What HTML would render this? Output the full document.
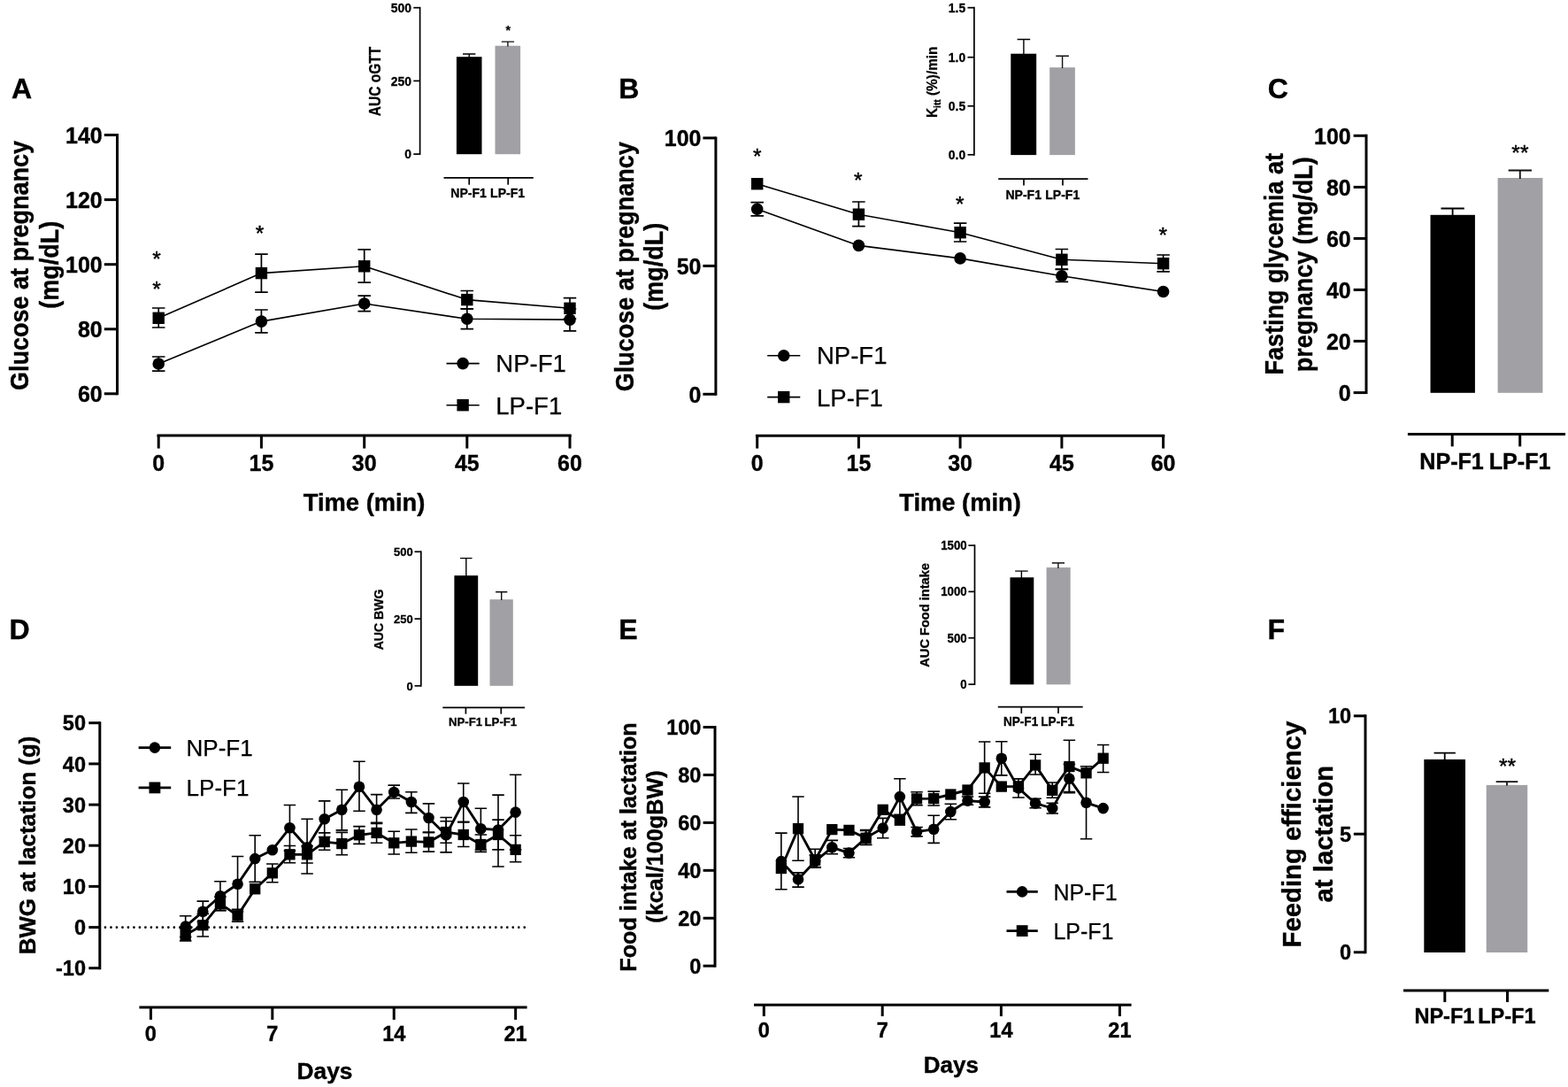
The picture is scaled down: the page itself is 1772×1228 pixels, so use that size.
<!DOCTYPE html>
<html lang="en"><head><meta charset="utf-8"><title>Figure</title>
<style>
html,body{margin:0;padding:0;background:#fff;width:1772px;height:1228px;overflow:hidden}
svg{display:block;font-family:"Liberation Sans",Arial,Helvetica,sans-serif}
</style></head><body>
<svg width="1772" height="1228" viewBox="0 0 1772 1228">
<rect width="1772" height="1228" fill="#fff"/>
<text x="13" y="110.6" font-size="32" font-weight="bold" text-anchor="start" fill="#000" stroke="#000" stroke-width="0.4">A</text>
<text x="699.3" y="110.6" font-size="32" font-weight="bold" text-anchor="start" fill="#000" stroke="#000" stroke-width="0.4">B</text>
<text x="1432.7" y="110.6" font-size="32" font-weight="bold" text-anchor="start" fill="#000" stroke="#000" stroke-width="0.4">C</text>
<text x="10.4" y="722.4" font-size="32" font-weight="bold" text-anchor="start" fill="#000" stroke="#000" stroke-width="0.4">D</text>
<text x="699.3" y="722.4" font-size="32" font-weight="bold" text-anchor="start" fill="#000" stroke="#000" stroke-width="0.4">E</text>
<text x="1432.4" y="722.4" font-size="32" font-weight="bold" text-anchor="start" fill="#000" stroke="#000" stroke-width="0.4">F</text>
<line x1="132.5" y1="151" x2="132.5" y2="446.3" stroke="#000" stroke-width="3" />
<line x1="117.8" y1="152.5" x2="132.5" y2="152.5" stroke="#000" stroke-width="3" />
<text x="115.7" y="161.81" font-size="26" font-weight="bold" text-anchor="end" fill="#000" stroke="#000" stroke-width="0.4" textLength="41.64" lengthAdjust="spacingAndGlyphs">140</text>
<line x1="117.8" y1="225.6" x2="132.5" y2="225.6" stroke="#000" stroke-width="3" />
<text x="115.7" y="234.91" font-size="26" font-weight="bold" text-anchor="end" fill="#000" stroke="#000" stroke-width="0.4" textLength="41.64" lengthAdjust="spacingAndGlyphs">120</text>
<line x1="117.8" y1="298.7" x2="132.5" y2="298.7" stroke="#000" stroke-width="3" />
<text x="115.7" y="308.01" font-size="26" font-weight="bold" text-anchor="end" fill="#000" stroke="#000" stroke-width="0.4" textLength="41.64" lengthAdjust="spacingAndGlyphs">100</text>
<line x1="117.8" y1="371.8" x2="132.5" y2="371.8" stroke="#000" stroke-width="3" />
<text x="115.7" y="381.11" font-size="26" font-weight="bold" text-anchor="end" fill="#000" stroke="#000" stroke-width="0.4" textLength="27.76" lengthAdjust="spacingAndGlyphs">80</text>
<line x1="117.8" y1="444.8" x2="132.5" y2="444.8" stroke="#000" stroke-width="3" />
<text x="115.7" y="454.11" font-size="26" font-weight="bold" text-anchor="end" fill="#000" stroke="#000" stroke-width="0.4" textLength="27.76" lengthAdjust="spacingAndGlyphs">60</text>
<line x1="177.5" y1="492" x2="645.7" y2="492" stroke="#000" stroke-width="3" />
<line x1="179.2" y1="492" x2="179.2" y2="506.6" stroke="#000" stroke-width="3" />
<text x="179.2" y="532" font-size="26" font-weight="bold" text-anchor="middle" fill="#000" stroke="#000" stroke-width="0.4" textLength="13.88" lengthAdjust="spacingAndGlyphs">0</text>
<line x1="295.4" y1="492" x2="295.4" y2="506.6" stroke="#000" stroke-width="3" />
<text x="295.4" y="532" font-size="26" font-weight="bold" text-anchor="middle" fill="#000" stroke="#000" stroke-width="0.4" textLength="27.76" lengthAdjust="spacingAndGlyphs">15</text>
<line x1="411.7" y1="492" x2="411.7" y2="506.6" stroke="#000" stroke-width="3" />
<text x="411.7" y="532" font-size="26" font-weight="bold" text-anchor="middle" fill="#000" stroke="#000" stroke-width="0.4" textLength="27.76" lengthAdjust="spacingAndGlyphs">30</text>
<line x1="527.8" y1="492" x2="527.8" y2="506.6" stroke="#000" stroke-width="3" />
<text x="527.8" y="532" font-size="26" font-weight="bold" text-anchor="middle" fill="#000" stroke="#000" stroke-width="0.4" textLength="27.76" lengthAdjust="spacingAndGlyphs">45</text>
<line x1="644" y1="492" x2="644" y2="506.6" stroke="#000" stroke-width="3" />
<text x="644" y="532" font-size="26" font-weight="bold" text-anchor="middle" fill="#000" stroke="#000" stroke-width="0.4" textLength="27.76" lengthAdjust="spacingAndGlyphs">60</text>
<text x="411.6" y="577.3" font-size="27.3" font-weight="bold" text-anchor="middle" fill="#000" stroke="#000" stroke-width="0.4">Time (min)</text>
<text x="32" y="300" font-size="28.8" font-weight="bold" text-anchor="middle" fill="#000" stroke="#000" stroke-width="0.4" transform="rotate(-90 32 300)" textLength="282.09" lengthAdjust="spacingAndGlyphs">Glucose at pregnancy</text>
<text x="65.8" y="299.3" font-size="28.8" font-weight="bold" text-anchor="middle" fill="#000" stroke="#000" stroke-width="0.4" transform="rotate(-90 65.8 299.3)" textLength="98.97" lengthAdjust="spacingAndGlyphs">(mg/dL)</text>
<polyline points="179.2,411 295.4,363.1 411.7,343 527.8,360.3 644,361.1" stroke="#000" stroke-width="1.6" fill="none" stroke-linejoin="round"/>
<path d="M171.95 403H186.45M171.95 419.2H186.45M179.2 403V419.2" stroke="#000" stroke-width="1.7" fill="none"/>
<path d="M288.15 350H302.65M288.15 375.8H302.65M295.4 350V375.8" stroke="#000" stroke-width="1.7" fill="none"/>
<path d="M404.45 334.2H418.95M404.45 351.6H418.95M411.7 334.2V351.6" stroke="#000" stroke-width="1.7" fill="none"/>
<path d="M520.55 349H535.05M520.55 371.6H535.05M527.8 349V371.6" stroke="#000" stroke-width="1.7" fill="none"/>
<path d="M636.75 349H651.25M636.75 373.8H651.25M644 349V373.8" stroke="#000" stroke-width="1.7" fill="none"/>
<circle cx="179.2" cy="411" r="6.8" fill="#000"/>
<circle cx="295.4" cy="363.1" r="6.8" fill="#000"/>
<circle cx="411.7" cy="343" r="6.8" fill="#000"/>
<circle cx="527.8" cy="360.3" r="6.8" fill="#000"/>
<circle cx="644" cy="361.1" r="6.8" fill="#000"/>
<polyline points="179.2,359.3 295.4,308.6 411.7,300.8 527.8,338.6 644,348.3" stroke="#000" stroke-width="1.6" fill="none" stroke-linejoin="round"/>
<path d="M171.95 348H186.45M171.95 370H186.45M179.2 348V370" stroke="#000" stroke-width="1.7" fill="none"/>
<path d="M288.15 287.1H302.65M288.15 330.2H302.65M295.4 287.1V330.2" stroke="#000" stroke-width="1.7" fill="none"/>
<path d="M404.45 281.8H418.95M404.45 319.1H418.95M411.7 281.8V319.1" stroke="#000" stroke-width="1.7" fill="none"/>
<path d="M520.55 328.5H535.05M520.55 348.9H535.05M527.8 328.5V348.9" stroke="#000" stroke-width="1.7" fill="none"/>
<path d="M636.75 336.6H651.25M636.75 360H651.25M644 336.6V360" stroke="#000" stroke-width="1.7" fill="none"/>
<rect x="172.5" y="352.6" width="13.4" height="13.4" fill="#000"/>
<rect x="288.7" y="301.9" width="13.4" height="13.4" fill="#000"/>
<rect x="405" y="294.1" width="13.4" height="13.4" fill="#000"/>
<rect x="521.1" y="331.9" width="13.4" height="13.4" fill="#000"/>
<rect x="637.3" y="341.6" width="13.4" height="13.4" fill="#000"/>
<text x="177.1" y="300.65" font-size="24.5" font-weight="normal" text-anchor="middle" fill="#000" stroke="#000" stroke-width="0.45">*</text>
<text x="177.1" y="334.55" font-size="24.5" font-weight="normal" text-anchor="middle" fill="#000" stroke="#000" stroke-width="0.45">*</text>
<text x="293.4" y="271.95" font-size="24.5" font-weight="normal" text-anchor="middle" fill="#000" stroke="#000" stroke-width="0.45">*</text>
<line x1="504.5" y1="410.6" x2="541.7" y2="410.6" stroke="#000" stroke-width="1.6" />
<circle cx="523.1" cy="410.6" r="6.8" fill="#000"/>
<text x="560.3" y="420" font-size="27.5" font-weight="normal" text-anchor="start" fill="#000" stroke="#000" stroke-width="0.25">NP-F1</text>
<line x1="504.5" y1="457.7" x2="541.7" y2="457.7" stroke="#000" stroke-width="1.6" />
<rect x="516.4" y="451" width="13.4" height="13.4" fill="#000"/>
<text x="560.3" y="467.8" font-size="27.5" font-weight="normal" text-anchor="start" fill="#000" stroke="#000" stroke-width="0.25">LP-F1</text>
<line x1="474.6" y1="7.85" x2="474.6" y2="174.95" stroke="#000" stroke-width="1.7" />
<line x1="467.3" y1="8.7" x2="474.6" y2="8.7" stroke="#000" stroke-width="1.7" />
<text x="464.9" y="13.89" font-size="14.5" font-weight="bold" text-anchor="end" fill="#000" stroke="#000" stroke-width="0.3" textLength="23.23" lengthAdjust="spacingAndGlyphs">500</text>
<line x1="467.3" y1="91.4" x2="474.6" y2="91.4" stroke="#000" stroke-width="1.7" />
<text x="464.9" y="96.59" font-size="14.5" font-weight="bold" text-anchor="end" fill="#000" stroke="#000" stroke-width="0.3" textLength="23.23" lengthAdjust="spacingAndGlyphs">250</text>
<line x1="467.3" y1="174.1" x2="474.6" y2="174.1" stroke="#000" stroke-width="1.7" />
<text x="464.9" y="179.29" font-size="14.5" font-weight="bold" text-anchor="end" fill="#000" stroke="#000" stroke-width="0.3" textLength="7.74" lengthAdjust="spacingAndGlyphs">0</text>
<rect x="515.9" y="64.2" width="28.6" height="110" fill="#000"/>
<rect x="559.5" y="51.7" width="28.6" height="122.5" fill="#a1a1a5"/>
<path d="M523.05 61H537.35M530.2 61V65" stroke="#000" stroke-width="1.4" fill="none"/>
<path d="M566.75 47.1H581.05M573.9 47.1V52.5" stroke="#111" stroke-width="1.4" fill="none"/>
<line x1="501.5" y1="200.9" x2="602.8" y2="200.9" stroke="#000" stroke-width="1.7" />
<line x1="530.2" y1="200.9" x2="530.2" y2="208.7" stroke="#000" stroke-width="1.7" />
<line x1="574.2" y1="200.9" x2="574.2" y2="208.7" stroke="#000" stroke-width="1.7" />
<text x="529.6" y="223.3" font-size="14.5" font-weight="bold" text-anchor="middle" fill="#000" stroke="#000" stroke-width="0.3" textLength="40.64" lengthAdjust="spacingAndGlyphs">NP-F1</text>
<text x="573.6" y="223.3" font-size="14.5" font-weight="bold" text-anchor="middle" fill="#000" stroke="#000" stroke-width="0.3" textLength="39.07" lengthAdjust="spacingAndGlyphs">LP-F1</text>
<text x="430.2" y="92" font-size="17.6" font-weight="bold" text-anchor="middle" fill="#000" stroke="#000" stroke-width="0.3" transform="rotate(-90 430.2 92)" textLength="78.3" lengthAdjust="spacingAndGlyphs">AUC oGTT</text>
<text x="574.2" y="39.2" font-size="14" font-weight="bold" text-anchor="middle" fill="#000" stroke="#000" stroke-width="0.2">*</text>
<line x1="808.9" y1="154.4" x2="808.9" y2="446.8" stroke="#000" stroke-width="3" />
<line x1="794.4" y1="155.9" x2="808.9" y2="155.9" stroke="#000" stroke-width="3" />
<text x="792.4" y="165.21" font-size="26" font-weight="bold" text-anchor="end" fill="#000" stroke="#000" stroke-width="0.4" textLength="41.64" lengthAdjust="spacingAndGlyphs">100</text>
<line x1="794.4" y1="300.4" x2="808.9" y2="300.4" stroke="#000" stroke-width="3" />
<text x="792.4" y="309.71" font-size="26" font-weight="bold" text-anchor="end" fill="#000" stroke="#000" stroke-width="0.4" textLength="27.76" lengthAdjust="spacingAndGlyphs">50</text>
<line x1="794.4" y1="445.3" x2="808.9" y2="445.3" stroke="#000" stroke-width="3" />
<text x="792.4" y="454.61" font-size="26" font-weight="bold" text-anchor="end" fill="#000" stroke="#000" stroke-width="0.4" textLength="13.88" lengthAdjust="spacingAndGlyphs">0</text>
<line x1="853.9" y1="492.2" x2="1316.3" y2="492.2" stroke="#000" stroke-width="3" />
<line x1="855.7" y1="492.2" x2="855.7" y2="506.6" stroke="#000" stroke-width="3" />
<text x="855.7" y="532" font-size="26" font-weight="bold" text-anchor="middle" fill="#000" stroke="#000" stroke-width="0.4" textLength="13.88" lengthAdjust="spacingAndGlyphs">0</text>
<line x1="970.4" y1="492.2" x2="970.4" y2="506.6" stroke="#000" stroke-width="3" />
<text x="970.4" y="532" font-size="26" font-weight="bold" text-anchor="middle" fill="#000" stroke="#000" stroke-width="0.4" textLength="27.76" lengthAdjust="spacingAndGlyphs">15</text>
<line x1="1085.1" y1="492.2" x2="1085.1" y2="506.6" stroke="#000" stroke-width="3" />
<text x="1085.1" y="532" font-size="26" font-weight="bold" text-anchor="middle" fill="#000" stroke="#000" stroke-width="0.4" textLength="27.76" lengthAdjust="spacingAndGlyphs">30</text>
<line x1="1199.9" y1="492.2" x2="1199.9" y2="506.6" stroke="#000" stroke-width="3" />
<text x="1199.9" y="532" font-size="26" font-weight="bold" text-anchor="middle" fill="#000" stroke="#000" stroke-width="0.4" textLength="27.76" lengthAdjust="spacingAndGlyphs">45</text>
<line x1="1314.6" y1="492.2" x2="1314.6" y2="506.6" stroke="#000" stroke-width="3" />
<text x="1314.6" y="532" font-size="26" font-weight="bold" text-anchor="middle" fill="#000" stroke="#000" stroke-width="0.4" textLength="27.76" lengthAdjust="spacingAndGlyphs">60</text>
<text x="1085" y="577.3" font-size="27.3" font-weight="bold" text-anchor="middle" fill="#000" stroke="#000" stroke-width="0.4">Time (min)</text>
<text x="716" y="301.3" font-size="28.8" font-weight="bold" text-anchor="middle" fill="#000" stroke="#000" stroke-width="0.4" transform="rotate(-90 716 301.3)" textLength="282.09" lengthAdjust="spacingAndGlyphs">Glucose at pregnancy</text>
<text x="749.5" y="301.3" font-size="28.8" font-weight="bold" text-anchor="middle" fill="#000" stroke="#000" stroke-width="0.4" transform="rotate(-90 749.5 301.3)" textLength="98.97" lengthAdjust="spacingAndGlyphs">(mg/dL)</text>
<polyline points="855.7,236.3 970.4,277.4 1085.1,291.9 1199.9,311.7 1314.6,329.5" stroke="#000" stroke-width="1.6" fill="none" stroke-linejoin="round"/>
<path d="M848.45 228.6H862.95M848.45 243.9H862.95M855.7 228.6V243.9" stroke="#000" stroke-width="1.7" fill="none"/>
<path d="M1192.65 304.4H1207.15M1192.65 318.4H1207.15M1199.9 304.4V318.4" stroke="#000" stroke-width="1.7" fill="none"/>
<circle cx="855.7" cy="236.3" r="6.8" fill="#000"/>
<circle cx="970.4" cy="277.4" r="6.8" fill="#000"/>
<circle cx="1085.1" cy="291.9" r="6.8" fill="#000"/>
<circle cx="1199.9" cy="311.7" r="6.8" fill="#000"/>
<circle cx="1314.6" cy="329.5" r="6.8" fill="#000"/>
<polyline points="855.7,207.7 970.4,242.2 1085.1,262.7 1199.9,293.3 1314.6,297.7" stroke="#000" stroke-width="1.6" fill="none" stroke-linejoin="round"/>
<path d="M963.15 228H977.65M963.15 255.7H977.65M970.4 228V255.7" stroke="#000" stroke-width="1.7" fill="none"/>
<path d="M1077.85 252.2H1092.35M1077.85 273H1092.35M1085.1 252.2V273" stroke="#000" stroke-width="1.7" fill="none"/>
<path d="M1192.65 281.5H1207.15M1192.65 304.2H1207.15M1199.9 281.5V304.2" stroke="#000" stroke-width="1.7" fill="none"/>
<path d="M1307.35 288H1321.85M1307.35 306.8H1321.85M1314.6 288V306.8" stroke="#000" stroke-width="1.7" fill="none"/>
<rect x="849" y="201" width="13.4" height="13.4" fill="#000"/>
<rect x="963.7" y="235.5" width="13.4" height="13.4" fill="#000"/>
<rect x="1078.4" y="256" width="13.4" height="13.4" fill="#000"/>
<rect x="1193.2" y="286.6" width="13.4" height="13.4" fill="#000"/>
<rect x="1307.9" y="291" width="13.4" height="13.4" fill="#000"/>
<text x="855.8" y="185.35" font-size="24.5" font-weight="normal" text-anchor="middle" fill="#000" stroke="#000" stroke-width="0.45">*</text>
<text x="969.7" y="212.35" font-size="24.5" font-weight="normal" text-anchor="middle" fill="#000" stroke="#000" stroke-width="0.45">*</text>
<text x="1084.7" y="238.75" font-size="24.5" font-weight="normal" text-anchor="middle" fill="#000" stroke="#000" stroke-width="0.45">*</text>
<text x="1314.2" y="274.25" font-size="24.5" font-weight="normal" text-anchor="middle" fill="#000" stroke="#000" stroke-width="0.45">*</text>
<line x1="867.2" y1="401.8" x2="904.3" y2="401.8" stroke="#000" stroke-width="1.6" />
<circle cx="885.75" cy="401.8" r="6.8" fill="#000"/>
<text x="923" y="410.9" font-size="27.5" font-weight="normal" text-anchor="start" fill="#000" stroke="#000" stroke-width="0.25">NP-F1</text>
<line x1="867.2" y1="448.6" x2="904.3" y2="448.6" stroke="#000" stroke-width="1.6" />
<rect x="879.05" y="441.9" width="13.4" height="13.4" fill="#000"/>
<text x="923" y="458.9" font-size="27.5" font-weight="normal" text-anchor="start" fill="#000" stroke="#000" stroke-width="0.25">LP-F1</text>
<line x1="1100.9" y1="7.85" x2="1100.9" y2="175.65" stroke="#000" stroke-width="1.7" />
<line x1="1093.5" y1="8.7" x2="1100.9" y2="8.7" stroke="#000" stroke-width="1.7" />
<text x="1091.2" y="13.89" font-size="14.5" font-weight="bold" text-anchor="end" fill="#000" stroke="#000" stroke-width="0.3" textLength="19.35" lengthAdjust="spacingAndGlyphs">1.5</text>
<line x1="1093.5" y1="64.7" x2="1100.9" y2="64.7" stroke="#000" stroke-width="1.7" />
<text x="1091.2" y="69.89" font-size="14.5" font-weight="bold" text-anchor="end" fill="#000" stroke="#000" stroke-width="0.3" textLength="19.35" lengthAdjust="spacingAndGlyphs">1.0</text>
<line x1="1093.5" y1="119.8" x2="1100.9" y2="119.8" stroke="#000" stroke-width="1.7" />
<text x="1091.2" y="124.99" font-size="14.5" font-weight="bold" text-anchor="end" fill="#000" stroke="#000" stroke-width="0.3" textLength="19.35" lengthAdjust="spacingAndGlyphs">0.5</text>
<line x1="1093.5" y1="174.8" x2="1100.9" y2="174.8" stroke="#000" stroke-width="1.7" />
<text x="1091.2" y="179.99" font-size="14.5" font-weight="bold" text-anchor="end" fill="#000" stroke="#000" stroke-width="0.3" textLength="19.35" lengthAdjust="spacingAndGlyphs">0.0</text>
<rect x="1142.3" y="60.7" width="28.9" height="114.4" fill="#000"/>
<rect x="1186.2" y="76.2" width="28.7" height="98.9" fill="#a1a1a5"/>
<path d="M1149.6 44.5H1164.2M1156.9 44.5V61.5" stroke="#000" stroke-width="1.4" fill="none"/>
<path d="M1193.3 63.2H1207.9M1200.6 63.2V77" stroke="#111" stroke-width="1.4" fill="none"/>
<line x1="1128.2" y1="202.1" x2="1229.5" y2="202.1" stroke="#000" stroke-width="1.7" />
<line x1="1157" y1="202.1" x2="1157" y2="209.5" stroke="#000" stroke-width="1.7" />
<line x1="1201" y1="202.1" x2="1201" y2="209.5" stroke="#000" stroke-width="1.7" />
<text x="1156.7" y="224.8" font-size="14.5" font-weight="bold" text-anchor="middle" fill="#000" stroke="#000" stroke-width="0.3" textLength="40.64" lengthAdjust="spacingAndGlyphs">NP-F1</text>
<text x="1200.7" y="224.8" font-size="14.5" font-weight="bold" text-anchor="middle" fill="#000" stroke="#000" stroke-width="0.3" textLength="39.07" lengthAdjust="spacingAndGlyphs">LP-F1</text>
<text x="1058.9" y="92.8" font-size="17.2" font-weight="bold" text-anchor="middle" stroke="#000" stroke-width="0.3" textLength="80.5" lengthAdjust="spacingAndGlyphs" transform="rotate(-90 1058.9 92.8)">K<tspan font-size="11.5" dy="4.6">itt</tspan><tspan dy="-4.6"> (%)/min</tspan></text>
<line x1="1544" y1="151.8" x2="1544" y2="445.1" stroke="#000" stroke-width="3" />
<line x1="1529.6" y1="153.3" x2="1544" y2="153.3" stroke="#000" stroke-width="3" />
<text x="1526.7" y="162.61" font-size="26" font-weight="bold" text-anchor="end" fill="#000" stroke="#000" stroke-width="0.4" textLength="41.64" lengthAdjust="spacingAndGlyphs">100</text>
<line x1="1529.6" y1="211.4" x2="1544" y2="211.4" stroke="#000" stroke-width="3" />
<text x="1526.7" y="220.71" font-size="26" font-weight="bold" text-anchor="end" fill="#000" stroke="#000" stroke-width="0.4" textLength="27.76" lengthAdjust="spacingAndGlyphs">80</text>
<line x1="1529.6" y1="269.4" x2="1544" y2="269.4" stroke="#000" stroke-width="3" />
<text x="1526.7" y="278.71" font-size="26" font-weight="bold" text-anchor="end" fill="#000" stroke="#000" stroke-width="0.4" textLength="27.76" lengthAdjust="spacingAndGlyphs">60</text>
<line x1="1529.6" y1="327.4" x2="1544" y2="327.4" stroke="#000" stroke-width="3" />
<text x="1526.7" y="336.71" font-size="26" font-weight="bold" text-anchor="end" fill="#000" stroke="#000" stroke-width="0.4" textLength="27.76" lengthAdjust="spacingAndGlyphs">40</text>
<line x1="1529.6" y1="385.4" x2="1544" y2="385.4" stroke="#000" stroke-width="3" />
<text x="1526.7" y="394.71" font-size="26" font-weight="bold" text-anchor="end" fill="#000" stroke="#000" stroke-width="0.4" textLength="27.76" lengthAdjust="spacingAndGlyphs">20</text>
<line x1="1529.6" y1="443.6" x2="1544" y2="443.6" stroke="#000" stroke-width="3" />
<text x="1526.7" y="452.91" font-size="26" font-weight="bold" text-anchor="end" fill="#000" stroke="#000" stroke-width="0.4" textLength="13.88" lengthAdjust="spacingAndGlyphs">0</text>
<rect x="1616.5" y="242.8" width="50.4" height="201" fill="#000"/>
<rect x="1692.6" y="201" width="50.8" height="242.8" fill="#a1a1a5"/>
<path d="M1628.45 235.5H1654.75M1641.6 235.5V243.5" stroke="#000" stroke-width="1.8" fill="none"/>
<path d="M1704.65 192.5H1730.95M1717.8 192.5V202" stroke="#111" stroke-width="1.8" fill="none"/>
<text x="1717.9" y="180.85" font-size="24.5" font-weight="normal" text-anchor="middle" fill="#000" stroke="#000" stroke-width="0.45">**</text>
<line x1="1590.9" y1="490.6" x2="1769" y2="490.6" stroke="#000" stroke-width="3" />
<line x1="1641.2" y1="490.6" x2="1641.2" y2="504.4" stroke="#000" stroke-width="3" />
<line x1="1717.7" y1="490.6" x2="1717.7" y2="504.4" stroke="#000" stroke-width="3" />
<text x="1640.6" y="529.6" font-size="26" font-weight="bold" text-anchor="middle" fill="#000" stroke="#000" stroke-width="0.4" textLength="72.49" lengthAdjust="spacingAndGlyphs">NP-F1</text>
<text x="1717.6" y="529.6" font-size="26" font-weight="bold" text-anchor="middle" fill="#000" stroke="#000" stroke-width="0.4" textLength="69.7" lengthAdjust="spacingAndGlyphs">LP-F1</text>
<text x="1450" y="298.2" font-size="28.6" font-weight="bold" text-anchor="middle" fill="#000" stroke="#000" stroke-width="0.4" transform="rotate(-90 1450 298.2)" textLength="250.58" lengthAdjust="spacingAndGlyphs">Fasting glycemia at</text>
<text x="1483.3" y="298.8" font-size="28.6" font-weight="bold" text-anchor="middle" fill="#000" stroke="#000" stroke-width="0.4" transform="rotate(-90 1483.3 298.8)" textLength="243.01" lengthAdjust="spacingAndGlyphs">pregnancy (mg/dL)</text>
<line x1="112.8" y1="815.2" x2="112.8" y2="1095.2" stroke="#000" stroke-width="3" />
<line x1="100.3" y1="816.7" x2="112.8" y2="816.7" stroke="#000" stroke-width="3" />
<text x="97" y="825.47" font-size="24.5" font-weight="bold" text-anchor="end" fill="#000" stroke="#000" stroke-width="0.4" textLength="26.16" lengthAdjust="spacingAndGlyphs">50</text>
<line x1="100.3" y1="862.9" x2="112.8" y2="862.9" stroke="#000" stroke-width="3" />
<text x="97" y="871.67" font-size="24.5" font-weight="bold" text-anchor="end" fill="#000" stroke="#000" stroke-width="0.4" textLength="26.16" lengthAdjust="spacingAndGlyphs">40</text>
<line x1="100.3" y1="909.1" x2="112.8" y2="909.1" stroke="#000" stroke-width="3" />
<text x="97" y="917.87" font-size="24.5" font-weight="bold" text-anchor="end" fill="#000" stroke="#000" stroke-width="0.4" textLength="26.16" lengthAdjust="spacingAndGlyphs">30</text>
<line x1="100.3" y1="955.2" x2="112.8" y2="955.2" stroke="#000" stroke-width="3" />
<text x="97" y="963.97" font-size="24.5" font-weight="bold" text-anchor="end" fill="#000" stroke="#000" stroke-width="0.4" textLength="26.16" lengthAdjust="spacingAndGlyphs">20</text>
<line x1="100.3" y1="1001.4" x2="112.8" y2="1001.4" stroke="#000" stroke-width="3" />
<text x="97" y="1010.17" font-size="24.5" font-weight="bold" text-anchor="end" fill="#000" stroke="#000" stroke-width="0.4" textLength="26.16" lengthAdjust="spacingAndGlyphs">10</text>
<line x1="100.3" y1="1047.6" x2="112.8" y2="1047.6" stroke="#000" stroke-width="3" />
<text x="97" y="1056.37" font-size="24.5" font-weight="bold" text-anchor="end" fill="#000" stroke="#000" stroke-width="0.4" textLength="13.08" lengthAdjust="spacingAndGlyphs">0</text>
<line x1="100.3" y1="1093.7" x2="112.8" y2="1093.7" stroke="#000" stroke-width="3" />
<text x="97" y="1102.47" font-size="24.5" font-weight="bold" text-anchor="end" fill="#000" stroke="#000" stroke-width="0.4" textLength="33.99" lengthAdjust="spacingAndGlyphs">-10</text>
<line x1="157.4" y1="1138.1" x2="595.6" y2="1138.1" stroke="#000" stroke-width="3" />
<line x1="170.4" y1="1138.1" x2="170.4" y2="1152" stroke="#000" stroke-width="3" />
<text x="170.4" y="1175.9" font-size="24.5" font-weight="bold" text-anchor="middle" fill="#000" stroke="#000" stroke-width="0.4" textLength="13.08" lengthAdjust="spacingAndGlyphs">0</text>
<line x1="307.81" y1="1138.1" x2="307.81" y2="1152" stroke="#000" stroke-width="3" />
<text x="307.81" y="1175.9" font-size="24.5" font-weight="bold" text-anchor="middle" fill="#000" stroke="#000" stroke-width="0.4" textLength="13.08" lengthAdjust="spacingAndGlyphs">7</text>
<line x1="445.22" y1="1138.1" x2="445.22" y2="1152" stroke="#000" stroke-width="3" />
<text x="445.22" y="1175.9" font-size="24.5" font-weight="bold" text-anchor="middle" fill="#000" stroke="#000" stroke-width="0.4" textLength="26.16" lengthAdjust="spacingAndGlyphs">14</text>
<line x1="582.63" y1="1138.1" x2="582.63" y2="1152" stroke="#000" stroke-width="3" />
<text x="582.63" y="1175.9" font-size="24.5" font-weight="bold" text-anchor="middle" fill="#000" stroke="#000" stroke-width="0.4" textLength="26.16" lengthAdjust="spacingAndGlyphs">21</text>
<text x="367" y="1218.6" font-size="26.3" font-weight="bold" text-anchor="middle" fill="#000" stroke="#000" stroke-width="0.4">Days</text>
<text x="40.3" y="955" font-size="25.8" font-weight="bold" text-anchor="middle" fill="#000" stroke="#000" stroke-width="0.4" transform="rotate(-90 40.3 955)">BWG at lactation (g)</text>
<line x1="118.96" y1="1047.7" x2="593" y2="1047.7" stroke="#000" stroke-width="2.7" stroke-dasharray="0 6.49" stroke-linecap="round"/>
<polyline points="209.66,1046.6 229.29,1029.8 248.92,1012.2 268.55,998.8 288.18,970.1 307.81,960.2 327.44,935.3 347.07,957.3 366.7,925.2 386.33,914.7 405.96,888.8 425.59,914.7 445.22,895 464.85,906 484.48,924 504.11,943.2 523.74,906 543.37,936.2 563,937.5 582.63,917.6" stroke="#000" stroke-width="2.85" fill="none" stroke-linejoin="round"/>
<path d="M202.91 1034.7H216.41M202.91 1058.5H216.41M209.66 1034.7V1058.5" stroke="#000" stroke-width="1.6" fill="none"/>
<path d="M222.54 1018.1H236.04M222.54 1041.5H236.04M229.29 1018.1V1041.5" stroke="#000" stroke-width="1.6" fill="none"/>
<path d="M242.17 995.8H255.67M242.17 1028.6H255.67M248.92 995.8V1028.6" stroke="#000" stroke-width="1.6" fill="none"/>
<path d="M261.8 967.5H275.3M261.8 1030H275.3M268.55 967.5V1030" stroke="#000" stroke-width="1.6" fill="none"/>
<path d="M281.43 943.8H294.93M281.43 996.4H294.93M288.18 943.8V996.4" stroke="#000" stroke-width="1.6" fill="none"/>
<path d="M320.69 909.5H334.19M320.69 961.1H334.19M327.44 909.5V961.1" stroke="#000" stroke-width="1.6" fill="none"/>
<path d="M340.32 925.2H353.82M340.32 987H353.82M347.07 925.2V987" stroke="#000" stroke-width="1.6" fill="none"/>
<path d="M359.95 904.9H373.45M359.95 945.5H373.45M366.7 904.9V945.5" stroke="#000" stroke-width="1.6" fill="none"/>
<path d="M379.58 892.2H393.08M379.58 937.9H393.08M386.33 892.2V937.9" stroke="#000" stroke-width="1.6" fill="none"/>
<path d="M399.21 860.3H412.71M399.21 916.2H412.71M405.96 860.3V916.2" stroke="#000" stroke-width="1.6" fill="none"/>
<path d="M418.84 897.6H432.34M418.84 930.5H432.34M425.59 897.6V930.5" stroke="#000" stroke-width="1.6" fill="none"/>
<path d="M438.47 887.1H451.97M438.47 902H451.97M445.22 887.1V902" stroke="#000" stroke-width="1.6" fill="none"/>
<path d="M458.1 894.7H471.6M458.1 918.4H471.6M464.85 894.7V918.4" stroke="#000" stroke-width="1.6" fill="none"/>
<path d="M477.73 907.9H491.23M477.73 940.4H491.23M484.48 907.9V940.4" stroke="#000" stroke-width="1.6" fill="none"/>
<path d="M497.36 923.5H510.86M497.36 962.9H510.86M504.11 923.5V962.9" stroke="#000" stroke-width="1.6" fill="none"/>
<path d="M516.99 885H530.49M516.99 928.6H530.49M523.74 885V928.6" stroke="#000" stroke-width="1.6" fill="none"/>
<path d="M536.62 913.3H550.12M536.62 960H550.12M543.37 913.3V960" stroke="#000" stroke-width="1.6" fill="none"/>
<path d="M556.25 898.1H569.75M556.25 979H569.75M563 898.1V979" stroke="#000" stroke-width="1.6" fill="none"/>
<path d="M575.88 875.2H589.38M575.88 959.9H589.38M582.63 875.2V959.9" stroke="#000" stroke-width="1.6" fill="none"/>
<circle cx="209.66" cy="1046.6" r="6.3" fill="#000"/>
<circle cx="229.29" cy="1029.8" r="6.3" fill="#000"/>
<circle cx="248.92" cy="1012.2" r="6.3" fill="#000"/>
<circle cx="268.55" cy="998.8" r="6.3" fill="#000"/>
<circle cx="288.18" cy="970.1" r="6.3" fill="#000"/>
<circle cx="307.81" cy="960.2" r="6.3" fill="#000"/>
<circle cx="327.44" cy="935.3" r="6.3" fill="#000"/>
<circle cx="347.07" cy="957.3" r="6.3" fill="#000"/>
<circle cx="366.7" cy="925.2" r="6.3" fill="#000"/>
<circle cx="386.33" cy="914.7" r="6.3" fill="#000"/>
<circle cx="405.96" cy="888.8" r="6.3" fill="#000"/>
<circle cx="425.59" cy="914.7" r="6.3" fill="#000"/>
<circle cx="445.22" cy="895" r="6.3" fill="#000"/>
<circle cx="464.85" cy="906" r="6.3" fill="#000"/>
<circle cx="484.48" cy="924" r="6.3" fill="#000"/>
<circle cx="504.11" cy="943.2" r="6.3" fill="#000"/>
<circle cx="523.74" cy="906" r="6.3" fill="#000"/>
<circle cx="543.37" cy="936.2" r="6.3" fill="#000"/>
<circle cx="563" cy="937.5" r="6.3" fill="#000"/>
<circle cx="582.63" cy="917.6" r="6.3" fill="#000"/>
<polyline points="209.66,1056 229.29,1045.2 248.92,1020.9 268.55,1034.3 288.18,1004.3 307.81,986.3 327.44,965.3 347.07,965.3 366.7,951.1 386.33,953.1 405.96,943.3 425.59,940.9 445.22,952.3 464.85,950.6 484.48,951.4 504.11,940 523.74,943 543.37,954 563,943 582.63,959.9" stroke="#000" stroke-width="2.85" fill="none" stroke-linejoin="round"/>
<path d="M202.91 1049H216.41M202.91 1062.9H216.41M209.66 1049V1062.9" stroke="#000" stroke-width="1.6" fill="none"/>
<path d="M222.54 1032.4H236.04M222.54 1058H236.04M229.29 1032.4V1058" stroke="#000" stroke-width="1.6" fill="none"/>
<path d="M242.17 1013.4H255.67M242.17 1028.4H255.67M248.92 1013.4V1028.4" stroke="#000" stroke-width="1.6" fill="none"/>
<path d="M261.8 1027.4H275.3M261.8 1041.2H275.3M268.55 1027.4V1041.2" stroke="#000" stroke-width="1.6" fill="none"/>
<path d="M301.06 976H314.56M301.06 996.8H314.56M307.81 976V996.8" stroke="#000" stroke-width="1.6" fill="none"/>
<path d="M320.69 955.5H334.19M320.69 974.8H334.19M327.44 955.5V974.8" stroke="#000" stroke-width="1.6" fill="none"/>
<path d="M340.32 955.6H353.82M340.32 975H353.82M347.07 955.6V975" stroke="#000" stroke-width="1.6" fill="none"/>
<path d="M359.95 940.9H373.45M359.95 960.2H373.45M366.7 940.9V960.2" stroke="#000" stroke-width="1.6" fill="none"/>
<path d="M379.58 940.4H393.08M379.58 965.8H393.08M386.33 940.4V965.8" stroke="#000" stroke-width="1.6" fill="none"/>
<path d="M399.21 933.6H412.71M399.21 953.4H412.71M405.96 933.6V953.4" stroke="#000" stroke-width="1.6" fill="none"/>
<path d="M418.84 929.4H432.34M418.84 952.3H432.34M425.59 929.4V952.3" stroke="#000" stroke-width="1.6" fill="none"/>
<path d="M438.47 939.2H451.97M438.47 965H451.97M445.22 939.2V965" stroke="#000" stroke-width="1.6" fill="none"/>
<path d="M458.1 937H471.6M458.1 963.3H471.6M464.85 937V963.3" stroke="#000" stroke-width="1.6" fill="none"/>
<path d="M477.73 940.4H491.23M477.73 962.1H491.23M484.48 940.4V962.1" stroke="#000" stroke-width="1.6" fill="none"/>
<path d="M497.36 927.7H510.86M497.36 952.3H510.86M504.11 927.7V952.3" stroke="#000" stroke-width="1.6" fill="none"/>
<path d="M516.99 928.6H530.49M516.99 956.5H530.49M523.74 928.6V956.5" stroke="#000" stroke-width="1.6" fill="none"/>
<path d="M536.62 943H550.12M536.62 962.4H550.12M543.37 943V962.4" stroke="#000" stroke-width="1.6" fill="none"/>
<path d="M556.25 926.1H569.75M556.25 959.9H569.75M563 926.1V959.9" stroke="#000" stroke-width="1.6" fill="none"/>
<path d="M575.88 943.8H589.38M575.88 973.8H589.38M582.63 943.8V973.8" stroke="#000" stroke-width="1.6" fill="none"/>
<rect x="203.51" y="1049.85" width="12.3" height="12.3" fill="#000"/>
<rect x="223.14" y="1039.05" width="12.3" height="12.3" fill="#000"/>
<rect x="242.77" y="1014.75" width="12.3" height="12.3" fill="#000"/>
<rect x="262.4" y="1028.15" width="12.3" height="12.3" fill="#000"/>
<rect x="282.03" y="998.15" width="12.3" height="12.3" fill="#000"/>
<rect x="301.66" y="980.15" width="12.3" height="12.3" fill="#000"/>
<rect x="321.29" y="959.15" width="12.3" height="12.3" fill="#000"/>
<rect x="340.92" y="959.15" width="12.3" height="12.3" fill="#000"/>
<rect x="360.55" y="944.95" width="12.3" height="12.3" fill="#000"/>
<rect x="380.18" y="946.95" width="12.3" height="12.3" fill="#000"/>
<rect x="399.81" y="937.15" width="12.3" height="12.3" fill="#000"/>
<rect x="419.44" y="934.75" width="12.3" height="12.3" fill="#000"/>
<rect x="439.07" y="946.15" width="12.3" height="12.3" fill="#000"/>
<rect x="458.7" y="944.45" width="12.3" height="12.3" fill="#000"/>
<rect x="478.33" y="945.25" width="12.3" height="12.3" fill="#000"/>
<rect x="497.96" y="933.85" width="12.3" height="12.3" fill="#000"/>
<rect x="517.59" y="936.85" width="12.3" height="12.3" fill="#000"/>
<rect x="537.22" y="947.85" width="12.3" height="12.3" fill="#000"/>
<rect x="556.85" y="936.85" width="12.3" height="12.3" fill="#000"/>
<rect x="576.48" y="953.75" width="12.3" height="12.3" fill="#000"/>
<line x1="156.6" y1="844.6" x2="193.2" y2="844.6" stroke="#000" stroke-width="2.8" />
<circle cx="174.9" cy="844.6" r="6.3" fill="#000"/>
<text x="210.6" y="853.9" font-size="26" font-weight="normal" text-anchor="start" fill="#000" stroke="#000" stroke-width="0.25">NP-F1</text>
<line x1="156.6" y1="889.9" x2="193.2" y2="889.9" stroke="#000" stroke-width="2.8" />
<rect x="168.5" y="883.5" width="12.8" height="12.8" fill="#000"/>
<text x="210.6" y="898.8" font-size="26" font-weight="normal" text-anchor="start" fill="#000" stroke="#000" stroke-width="0.25">LP-F1</text>
<line x1="475.8" y1="622.45" x2="475.8" y2="775.65" stroke="#000" stroke-width="1.7" />
<line x1="468.5" y1="623.3" x2="475.8" y2="623.3" stroke="#000" stroke-width="1.7" />
<text x="466.6" y="628.13" font-size="13.5" font-weight="bold" text-anchor="end" fill="#000" stroke="#000" stroke-width="0.3" textLength="21.62" lengthAdjust="spacingAndGlyphs">500</text>
<line x1="468.5" y1="699.1" x2="475.8" y2="699.1" stroke="#000" stroke-width="1.7" />
<text x="466.6" y="703.93" font-size="13.5" font-weight="bold" text-anchor="end" fill="#000" stroke="#000" stroke-width="0.3" textLength="21.62" lengthAdjust="spacingAndGlyphs">250</text>
<line x1="468.5" y1="774.8" x2="475.8" y2="774.8" stroke="#000" stroke-width="1.7" />
<text x="466.6" y="779.63" font-size="13.5" font-weight="bold" text-anchor="end" fill="#000" stroke="#000" stroke-width="0.3" textLength="7.21" lengthAdjust="spacingAndGlyphs">0</text>
<rect x="513.4" y="650.2" width="26.8" height="124.6" fill="#000"/>
<rect x="553.5" y="677.2" width="26.3" height="97.6" fill="#a1a1a5"/>
<path d="M520.05 630.6H533.55M526.8 630.6V651" stroke="#000" stroke-width="1.4" fill="none"/>
<path d="M560.1 668.8H573.3M566.7 668.8V678" stroke="#111" stroke-width="1.4" fill="none"/>
<line x1="500.3" y1="799.3" x2="593.1" y2="799.3" stroke="#000" stroke-width="1.7" />
<line x1="526.4" y1="799.3" x2="526.4" y2="806.6" stroke="#000" stroke-width="1.7" />
<line x1="566.3" y1="799.3" x2="566.3" y2="806.6" stroke="#000" stroke-width="1.7" />
<text x="526" y="819.7" font-size="13.6" font-weight="bold" text-anchor="middle" fill="#000" stroke="#000" stroke-width="0.3" textLength="38.11" lengthAdjust="spacingAndGlyphs">NP-F1</text>
<text x="565.9" y="819.7" font-size="13.6" font-weight="bold" text-anchor="middle" fill="#000" stroke="#000" stroke-width="0.3" textLength="36.65" lengthAdjust="spacingAndGlyphs">LP-F1</text>
<text x="433.4" y="699.9" font-size="14.1" font-weight="bold" text-anchor="middle" fill="#000" stroke="#000" stroke-width="0.3" transform="rotate(-90 433.4 699.9)">AUC BWG</text>
<line x1="808" y1="820" x2="808" y2="1092.7" stroke="#000" stroke-width="3" />
<line x1="794.6" y1="821.5" x2="808" y2="821.5" stroke="#000" stroke-width="3" />
<text x="792.4" y="830.27" font-size="24.5" font-weight="bold" text-anchor="end" fill="#000" stroke="#000" stroke-width="0.4" textLength="39.24" lengthAdjust="spacingAndGlyphs">100</text>
<line x1="794.6" y1="875.44" x2="808" y2="875.44" stroke="#000" stroke-width="3" />
<text x="792.4" y="884.21" font-size="24.5" font-weight="bold" text-anchor="end" fill="#000" stroke="#000" stroke-width="0.4" textLength="26.16" lengthAdjust="spacingAndGlyphs">80</text>
<line x1="794.6" y1="929.38" x2="808" y2="929.38" stroke="#000" stroke-width="3" />
<text x="792.4" y="938.15" font-size="24.5" font-weight="bold" text-anchor="end" fill="#000" stroke="#000" stroke-width="0.4" textLength="26.16" lengthAdjust="spacingAndGlyphs">60</text>
<line x1="794.6" y1="983.32" x2="808" y2="983.32" stroke="#000" stroke-width="3" />
<text x="792.4" y="992.09" font-size="24.5" font-weight="bold" text-anchor="end" fill="#000" stroke="#000" stroke-width="0.4" textLength="26.16" lengthAdjust="spacingAndGlyphs">40</text>
<line x1="794.6" y1="1037.26" x2="808" y2="1037.26" stroke="#000" stroke-width="3" />
<text x="792.4" y="1046.03" font-size="24.5" font-weight="bold" text-anchor="end" fill="#000" stroke="#000" stroke-width="0.4" textLength="26.16" lengthAdjust="spacingAndGlyphs">20</text>
<line x1="794.6" y1="1091.2" x2="808" y2="1091.2" stroke="#000" stroke-width="3" />
<text x="792.4" y="1099.97" font-size="24.5" font-weight="bold" text-anchor="end" fill="#000" stroke="#000" stroke-width="0.4" textLength="13.08" lengthAdjust="spacingAndGlyphs">0</text>
<line x1="852" y1="1135.2" x2="1278.6" y2="1135.2" stroke="#000" stroke-width="3" />
<line x1="863.3" y1="1135.2" x2="863.3" y2="1148.1" stroke="#000" stroke-width="3" />
<text x="863.3" y="1171.6" font-size="24.5" font-weight="bold" text-anchor="middle" fill="#000" stroke="#000" stroke-width="0.4" textLength="13.08" lengthAdjust="spacingAndGlyphs">0</text>
<line x1="997.2" y1="1135.2" x2="997.2" y2="1148.1" stroke="#000" stroke-width="3" />
<text x="997.2" y="1171.6" font-size="24.5" font-weight="bold" text-anchor="middle" fill="#000" stroke="#000" stroke-width="0.4" textLength="13.08" lengthAdjust="spacingAndGlyphs">7</text>
<line x1="1131.4" y1="1135.2" x2="1131.4" y2="1148.1" stroke="#000" stroke-width="3" />
<text x="1131.4" y="1171.6" font-size="24.5" font-weight="bold" text-anchor="middle" fill="#000" stroke="#000" stroke-width="0.4" textLength="26.16" lengthAdjust="spacingAndGlyphs">14</text>
<line x1="1265.4" y1="1135.2" x2="1265.4" y2="1148.1" stroke="#000" stroke-width="3" />
<text x="1265.4" y="1171.6" font-size="24.5" font-weight="bold" text-anchor="middle" fill="#000" stroke="#000" stroke-width="0.4" textLength="26.16" lengthAdjust="spacingAndGlyphs">21</text>
<text x="1074.8" y="1211.5" font-size="26" font-weight="bold" text-anchor="middle" fill="#000" stroke="#000" stroke-width="0.4">Days</text>
<text x="718.8" y="957" font-size="26.3" font-weight="bold" text-anchor="middle" fill="#000" stroke="#000" stroke-width="0.4" transform="rotate(-90 718.8 957)" textLength="281.43" lengthAdjust="spacingAndGlyphs">Food intake at lactation</text>
<text x="749.3" y="956.5" font-size="26.3" font-weight="bold" text-anchor="middle" fill="#000" stroke="#000" stroke-width="0.4" transform="rotate(-90 749.3 956.5)" textLength="172.25" lengthAdjust="spacingAndGlyphs">(kcal/100gBW)</text>
<polyline points="882.85,973.1 902,993.4 921.15,973.1 940.3,957.3 959.45,963.6 978.6,946.5 997.75,935.6 1016.9,900.1 1036.05,939.7 1055.2,936.8 1074.35,917 1093.5,904.6 1112.65,906 1131.8,856.8 1150.95,890.4 1170.1,907.5 1189.25,913.1 1208.4,879.6 1227.55,906.8 1246.7,913.1" stroke="#000" stroke-width="2.85" fill="none" stroke-linejoin="round"/>
<path d="M876.1 941.1H889.6M876.1 1004.7H889.6M882.85 941.1V1004.7" stroke="#000" stroke-width="1.6" fill="none"/>
<path d="M895.25 985.9H908.75M895.25 1002.1H908.75M902 985.9V1002.1" stroke="#000" stroke-width="1.6" fill="none"/>
<path d="M914.4 966H927.9M914.4 980.2H927.9M921.15 966V980.2" stroke="#000" stroke-width="1.6" fill="none"/>
<path d="M933.55 949.4H947.05M933.55 964.8H947.05M940.3 949.4V964.8" stroke="#000" stroke-width="1.6" fill="none"/>
<path d="M952.7 958.5H966.2M952.7 968.7H966.2M959.45 958.5V968.7" stroke="#000" stroke-width="1.6" fill="none"/>
<path d="M971.85 938.5H985.35M971.85 954.5H985.35M978.6 938.5V954.5" stroke="#000" stroke-width="1.6" fill="none"/>
<path d="M991 924.4H1004.5M991 946.8H1004.5M997.75 924.4V946.8" stroke="#000" stroke-width="1.6" fill="none"/>
<path d="M1010.15 879.8H1023.65M1010.15 920.4H1023.65M1016.9 879.8V920.4" stroke="#000" stroke-width="1.6" fill="none"/>
<path d="M1029.3 934.5H1042.8M1029.3 944.9H1042.8M1036.05 934.5V944.9" stroke="#000" stroke-width="1.6" fill="none"/>
<path d="M1048.45 921.2H1061.95M1048.45 952.4H1061.95M1055.2 921.2V952.4" stroke="#000" stroke-width="1.6" fill="none"/>
<path d="M1067.6 908.2H1081.1M1067.6 925.8H1081.1M1074.35 908.2V925.8" stroke="#000" stroke-width="1.6" fill="none"/>
<path d="M1086.75 900H1100.25M1086.75 909.2H1100.25M1093.5 900V909.2" stroke="#000" stroke-width="1.6" fill="none"/>
<path d="M1105.9 900.1H1119.4M1105.9 911.9H1119.4M1112.65 900.1V911.9" stroke="#000" stroke-width="1.6" fill="none"/>
<path d="M1125.05 837.7H1138.55M1125.05 875.9H1138.55M1131.8 837.7V875.9" stroke="#000" stroke-width="1.6" fill="none"/>
<path d="M1144.2 879.9H1157.7M1144.2 901H1157.7M1150.95 879.9V901" stroke="#000" stroke-width="1.6" fill="none"/>
<path d="M1163.35 902.2H1176.85M1163.35 912.8H1176.85M1170.1 902.2V912.8" stroke="#000" stroke-width="1.6" fill="none"/>
<path d="M1182.5 907.2H1196M1182.5 919H1196M1189.25 907.2V919" stroke="#000" stroke-width="1.6" fill="none"/>
<path d="M1201.65 863.4H1215.15M1201.65 895.8H1215.15M1208.4 863.4V895.8" stroke="#000" stroke-width="1.6" fill="none"/>
<path d="M1220.8 865.8H1234.3M1220.8 947.8H1234.3M1227.55 865.8V947.8" stroke="#000" stroke-width="1.6" fill="none"/>
<circle cx="882.85" cy="973.1" r="6.3" fill="#000"/>
<circle cx="902" cy="993.4" r="6.3" fill="#000"/>
<circle cx="921.15" cy="973.1" r="6.3" fill="#000"/>
<circle cx="940.3" cy="957.3" r="6.3" fill="#000"/>
<circle cx="959.45" cy="963.6" r="6.3" fill="#000"/>
<circle cx="978.6" cy="946.5" r="6.3" fill="#000"/>
<circle cx="997.75" cy="935.6" r="6.3" fill="#000"/>
<circle cx="1016.9" cy="900.1" r="6.3" fill="#000"/>
<circle cx="1036.05" cy="939.7" r="6.3" fill="#000"/>
<circle cx="1055.2" cy="936.8" r="6.3" fill="#000"/>
<circle cx="1074.35" cy="917" r="6.3" fill="#000"/>
<circle cx="1093.5" cy="904.6" r="6.3" fill="#000"/>
<circle cx="1112.65" cy="906" r="6.3" fill="#000"/>
<circle cx="1131.8" cy="856.8" r="6.3" fill="#000"/>
<circle cx="1150.95" cy="890.4" r="6.3" fill="#000"/>
<circle cx="1170.1" cy="907.5" r="6.3" fill="#000"/>
<circle cx="1189.25" cy="913.1" r="6.3" fill="#000"/>
<circle cx="1208.4" cy="879.6" r="6.3" fill="#000"/>
<circle cx="1227.55" cy="906.8" r="6.3" fill="#000"/>
<circle cx="1246.7" cy="913.1" r="6.3" fill="#000"/>
<polyline points="882.85,981 902,936.1 921.15,971.5 940.3,937.1 959.45,937.9 978.6,946.8 997.75,914.8 1016.9,926.7 1036.05,902.4 1055.2,902.1 1074.35,897.5 1093.5,892.5 1112.65,867.4 1131.8,888.6 1150.95,888.4 1170.1,864.4 1189.25,892.8 1208.4,866 1227.55,873.3 1246.7,856.7" stroke="#000" stroke-width="2.85" fill="none" stroke-linejoin="round"/>
<path d="M895.25 900H908.75M895.25 972.2H908.75M902 900V972.2" stroke="#000" stroke-width="1.6" fill="none"/>
<path d="M914.4 959.3H927.9M914.4 979.6H927.9M921.15 959.3V979.6" stroke="#000" stroke-width="1.6" fill="none"/>
<path d="M971.85 937.5H985.35M971.85 954.3H985.35M978.6 937.5V954.3" stroke="#000" stroke-width="1.6" fill="none"/>
<path d="M1029.3 894.8H1042.8M1029.3 909.7H1042.8M1036.05 894.8V909.7" stroke="#000" stroke-width="1.6" fill="none"/>
<path d="M1048.45 894.1H1061.95M1048.45 910H1061.95M1055.2 894.1V910" stroke="#000" stroke-width="1.6" fill="none"/>
<path d="M1105.9 838H1119.4M1105.9 896.2H1119.4M1112.65 838V896.2" stroke="#000" stroke-width="1.6" fill="none"/>
<path d="M1163.35 852.2H1176.85M1163.35 875H1176.85M1170.1 852.2V875" stroke="#000" stroke-width="1.6" fill="none"/>
<path d="M1182.5 884H1196M1182.5 901.3H1196M1189.25 884V901.3" stroke="#000" stroke-width="1.6" fill="none"/>
<path d="M1201.65 836.3H1215.15M1201.65 894.5H1215.15M1208.4 836.3V894.5" stroke="#000" stroke-width="1.6" fill="none"/>
<path d="M1239.95 841.5H1253.45M1239.95 872.5H1253.45M1246.7 841.5V872.5" stroke="#000" stroke-width="1.6" fill="none"/>
<rect x="876.7" y="974.85" width="12.3" height="12.3" fill="#000"/>
<rect x="895.85" y="929.95" width="12.3" height="12.3" fill="#000"/>
<rect x="915" y="965.35" width="12.3" height="12.3" fill="#000"/>
<rect x="934.15" y="930.95" width="12.3" height="12.3" fill="#000"/>
<rect x="953.3" y="931.75" width="12.3" height="12.3" fill="#000"/>
<rect x="972.45" y="940.65" width="12.3" height="12.3" fill="#000"/>
<rect x="991.6" y="908.65" width="12.3" height="12.3" fill="#000"/>
<rect x="1010.75" y="920.55" width="12.3" height="12.3" fill="#000"/>
<rect x="1029.9" y="896.25" width="12.3" height="12.3" fill="#000"/>
<rect x="1049.05" y="895.95" width="12.3" height="12.3" fill="#000"/>
<rect x="1068.2" y="891.35" width="12.3" height="12.3" fill="#000"/>
<rect x="1087.35" y="886.35" width="12.3" height="12.3" fill="#000"/>
<rect x="1106.5" y="861.25" width="12.3" height="12.3" fill="#000"/>
<rect x="1125.65" y="882.45" width="12.3" height="12.3" fill="#000"/>
<rect x="1144.8" y="882.25" width="12.3" height="12.3" fill="#000"/>
<rect x="1163.95" y="858.25" width="12.3" height="12.3" fill="#000"/>
<rect x="1183.1" y="886.65" width="12.3" height="12.3" fill="#000"/>
<rect x="1202.25" y="859.85" width="12.3" height="12.3" fill="#000"/>
<rect x="1221.4" y="867.15" width="12.3" height="12.3" fill="#000"/>
<rect x="1240.55" y="850.55" width="12.3" height="12.3" fill="#000"/>
<line x1="1137.5" y1="1007.4" x2="1172.8" y2="1007.4" stroke="#000" stroke-width="2.8" />
<circle cx="1155.15" cy="1007.4" r="6.3" fill="#000"/>
<text x="1190.4" y="1016.7" font-size="25" font-weight="normal" text-anchor="start" fill="#000" stroke="#000" stroke-width="0.25">NP-F1</text>
<line x1="1137.5" y1="1051.6" x2="1172.8" y2="1051.6" stroke="#000" stroke-width="2.8" />
<rect x="1148.75" y="1045.2" width="12.8" height="12.8" fill="#000"/>
<text x="1190.4" y="1060.7" font-size="25" font-weight="normal" text-anchor="start" fill="#000" stroke="#000" stroke-width="0.25">LP-F1</text>
<line x1="1101.5" y1="615.35" x2="1101.5" y2="773.95" stroke="#000" stroke-width="1.7" />
<line x1="1094.4" y1="616.2" x2="1101.5" y2="616.2" stroke="#000" stroke-width="1.7" />
<text x="1092.7" y="621.14" font-size="13.8" font-weight="bold" text-anchor="end" fill="#000" stroke="#000" stroke-width="0.3" textLength="29.47" lengthAdjust="spacingAndGlyphs">1500</text>
<line x1="1094.4" y1="668.4" x2="1101.5" y2="668.4" stroke="#000" stroke-width="1.7" />
<text x="1092.7" y="673.34" font-size="13.8" font-weight="bold" text-anchor="end" fill="#000" stroke="#000" stroke-width="0.3" textLength="29.47" lengthAdjust="spacingAndGlyphs">1000</text>
<line x1="1094.4" y1="720.7" x2="1101.5" y2="720.7" stroke="#000" stroke-width="1.7" />
<text x="1092.7" y="725.64" font-size="13.8" font-weight="bold" text-anchor="end" fill="#000" stroke="#000" stroke-width="0.3" textLength="22.1" lengthAdjust="spacingAndGlyphs">500</text>
<line x1="1094.4" y1="773.1" x2="1101.5" y2="773.1" stroke="#000" stroke-width="1.7" />
<text x="1092.7" y="778.04" font-size="13.8" font-weight="bold" text-anchor="end" fill="#000" stroke="#000" stroke-width="0.3" textLength="7.37" lengthAdjust="spacingAndGlyphs">0</text>
<rect x="1141.5" y="652.3" width="26.8" height="121" fill="#000"/>
<rect x="1182.6" y="641.1" width="27.1" height="132.2" fill="#a1a1a5"/>
<path d="M1147.15 645.1H1161.65M1154.4 645.1V653" stroke="#000" stroke-width="1.4" fill="none"/>
<path d="M1188.8 636H1203M1195.9 636V642" stroke="#111" stroke-width="1.4" fill="none"/>
<line x1="1127.8" y1="798.6" x2="1223.7" y2="798.6" stroke="#000" stroke-width="1.7" />
<line x1="1154.3" y1="798.6" x2="1154.3" y2="806" stroke="#000" stroke-width="1.7" />
<line x1="1196" y1="798.6" x2="1196" y2="806" stroke="#000" stroke-width="1.7" />
<text x="1153.6" y="819.7" font-size="14" font-weight="bold" text-anchor="middle" fill="#000" stroke="#000" stroke-width="0.3" textLength="39.24" lengthAdjust="spacingAndGlyphs">NP-F1</text>
<text x="1195.2" y="819.7" font-size="14" font-weight="bold" text-anchor="middle" fill="#000" stroke="#000" stroke-width="0.3" textLength="37.72" lengthAdjust="spacingAndGlyphs">LP-F1</text>
<text x="1049.9" y="694.9" font-size="14.6" font-weight="bold" text-anchor="middle" fill="#000" stroke="#000" stroke-width="0.3" transform="rotate(-90 1049.9 694.9)">AUC Food intake</text>
<line x1="1543" y1="807.3" x2="1543" y2="1077.3" stroke="#000" stroke-width="3" />
<line x1="1529.8" y1="808.8" x2="1543" y2="808.8" stroke="#000" stroke-width="3" />
<text x="1527.2" y="817.27" font-size="24.5" font-weight="bold" text-anchor="end" fill="#000" stroke="#000" stroke-width="0.4" textLength="26.16" lengthAdjust="spacingAndGlyphs">10</text>
<line x1="1529.8" y1="942.2" x2="1543" y2="942.2" stroke="#000" stroke-width="3" />
<text x="1527.2" y="950.67" font-size="24.5" font-weight="bold" text-anchor="end" fill="#000" stroke="#000" stroke-width="0.4" textLength="13.08" lengthAdjust="spacingAndGlyphs">5</text>
<line x1="1529.8" y1="1075.8" x2="1543" y2="1075.8" stroke="#000" stroke-width="3" />
<text x="1527.2" y="1084.27" font-size="24.5" font-weight="bold" text-anchor="end" fill="#000" stroke="#000" stroke-width="0.4" textLength="13.08" lengthAdjust="spacingAndGlyphs">0</text>
<rect x="1609.3" y="857.9" width="46.7" height="218.1" fill="#000"/>
<rect x="1679.7" y="886.9" width="46.5" height="189.1" fill="#a1a1a5"/>
<path d="M1620.55 850.6H1644.85M1632.7 850.6V858.5" stroke="#000" stroke-width="1.8" fill="none"/>
<path d="M1690.65 883.2H1715.35M1703 883.2V887.5" stroke="#111" stroke-width="1.8" fill="none"/>
<text x="1703.5" y="873.95" font-size="24.5" font-weight="normal" text-anchor="middle" fill="#000" stroke="#000" stroke-width="0.45">**</text>
<line x1="1586" y1="1119" x2="1750.3" y2="1119" stroke="#000" stroke-width="3" />
<line x1="1632.8" y1="1119" x2="1632.8" y2="1132.1" stroke="#000" stroke-width="3" />
<line x1="1703.5" y1="1119" x2="1703.5" y2="1132.1" stroke="#000" stroke-width="3" />
<text x="1632.4" y="1155.5" font-size="24.4" font-weight="bold" text-anchor="middle" fill="#000" stroke="#000" stroke-width="0.4" textLength="68.03" lengthAdjust="spacingAndGlyphs">NP-F1</text>
<text x="1702.9" y="1155.5" font-size="24.4" font-weight="bold" text-anchor="middle" fill="#000" stroke="#000" stroke-width="0.4" textLength="65.41" lengthAdjust="spacingAndGlyphs">LP-F1</text>
<text x="1470" y="942.6" font-size="30" font-weight="bold" text-anchor="middle" fill="#000" stroke="#000" stroke-width="0.4" transform="rotate(-90 1470 942.6)" textLength="255.63" lengthAdjust="spacingAndGlyphs">Feeding efficiency</text>
<text x="1506.3" y="942.1" font-size="30" font-weight="bold" text-anchor="middle" fill="#000" stroke="#000" stroke-width="0.4" transform="rotate(-90 1506.3 942.1)" textLength="154.67" lengthAdjust="spacingAndGlyphs">at lactation</text>
</svg>
</body></html>
